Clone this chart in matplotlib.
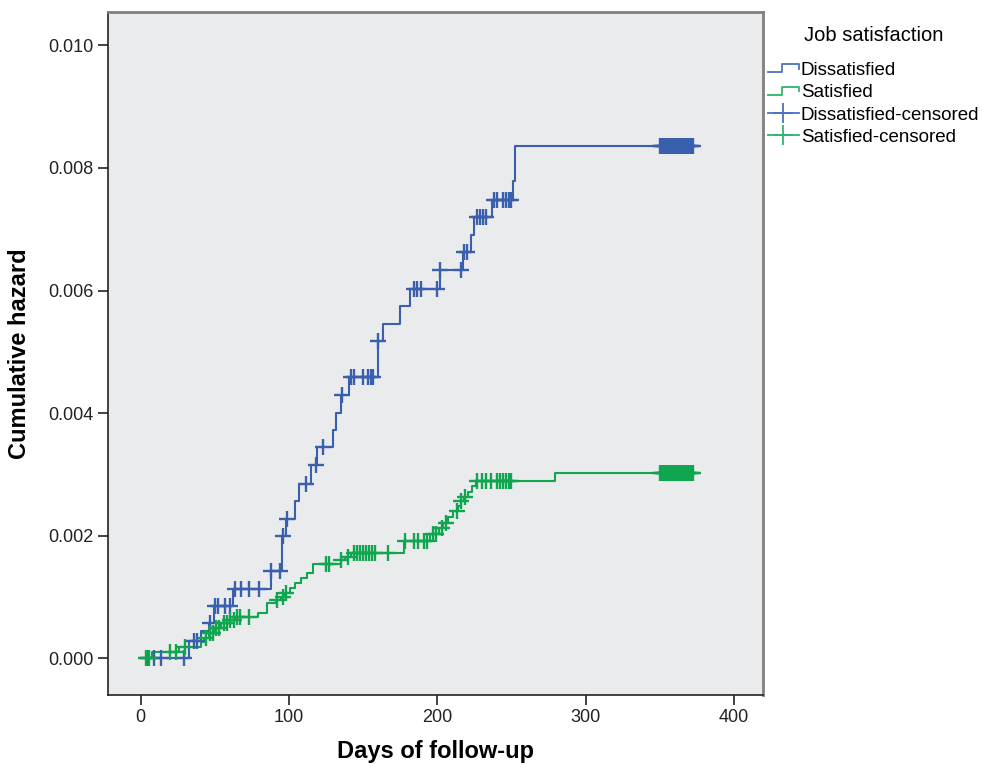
import matplotlib.pyplot as plt
import numpy as np
from matplotlib.lines import Line2D
from matplotlib.legend_handler import HandlerBase

plt.rcParams['font.family'] = ['Liberation Sans', 'DejaVu Sans']

# Dissatisfied group: event times and cumulative hazard after each step
dis_times = [0, 33, 41, 46, 49.5, 62, 88, 95.5, 98, 104, 107, 115, 119, 130, 132,
             135, 140.5, 160, 163.5, 175, 181.5, 201.5, 217, 223, 225, 237, 251,
             252.5, 372]
dis_haz = [0, 0.00028, 0.00045, 0.00058, 0.00086, 0.00114, 0.00143, 0.00199,
           0.00227, 0.00256, 0.00285, 0.00315, 0.00344, 0.00372, 0.00401, 0.00430,
           0.00459, 0.00517, 0.00546, 0.00575, 0.00603, 0.00633, 0.00662, 0.00690,
           0.00720, 0.00748, 0.00778, 0.00836, 0.00836]
dis_cens = [5, 9, 14, 29, 36, 38, 47, 50, 52, 57, 60, 64, 68, 73, 80, 88, 94, 96,
            99, 111.5, 118, 123, 135.5, 142, 144, 150, 153, 155, 157, 160, 184, 186,
            189, 200, 202, 216, 218, 220, 227, 229, 231, 233, 238, 240, 244, 246,
            248, 250, 350, 351, 352, 353, 354, 355, 356, 357, 358, 359, 360, 361,
            362, 363, 364, 365, 366, 367, 368, 369, 370, 371, 372]

# Satisfied group
sat_times = [0, 7.5, 26, 40.5, 43, 46, 50, 54, 60, 64, 79, 85.5, 91, 95, 97, 101,
             104, 108, 112, 116, 135, 138, 142, 177.5, 195, 201, 204, 207.5, 210.5,
             214, 216, 218, 221, 223.5, 226, 279, 372]
sat_haz = [0, 0.00010, 0.00019, 0.00027, 0.00034, 0.00041, 0.00049, 0.00057,
           0.00063, 0.00068, 0.00074, 0.00090, 0.00095, 0.00100, 0.00107, 0.00115,
           0.00123, 0.00131, 0.00140, 0.00154, 0.00160, 0.00166, 0.00172, 0.00192,
           0.00203, 0.00213, 0.00221, 0.00230, 0.00240, 0.00248, 0.00256, 0.00264,
           0.00272, 0.00281, 0.00290, 0.00302, 0.00302]
sat_cens = [4, 6, 20, 24, 30, 44, 47, 49, 51, 53, 56, 58, 60, 63, 65, 67, 73, 92,
            96, 98, 125, 127, 135, 140, 144, 146, 148, 150, 152, 154, 156, 158, 167,
            178, 184, 187, 191, 193, 197, 199, 203, 206, 213, 216, 219, 227, 230,
            233, 236, 240, 242, 244, 246, 248, 250, 350, 351, 352, 353, 354, 355,
            356, 357, 358, 359, 360, 361, 362, 363, 364, 365, 366, 367, 368, 369,
            370, 371, 372]

blue = '#3a5fad'
green = '#0fa64f'
blue_leg = '#4c72bd'
green_leg = '#2fb56c'


def haz_at(times, haz, t):
    idx = np.searchsorted(times, t, side='right') - 1
    return np.asarray(haz)[idx]


class StepHandler(HandlerBase):
    def create_artists(self, legend, orig_handle, xdescent, ydescent, width,
                       height, fontsize, trans):
        x0 = -xdescent
        y0 = -ydescent
        xs = [x0, x0 + width * 0.45, x0 + width * 0.45, x0 + width, x0 + width]
        ys = [y0 + height * 0.2, y0 + height * 0.2, y0 + height * 0.8,
              y0 + height * 0.8, y0 + height * 0.45]
        ln = Line2D(xs, ys, color=orig_handle.get_color(), lw=1.3, transform=trans)
        return [ln]


fig = plt.figure(figsize=(9.82, 7.67), dpi=100)
ax = fig.add_axes([0.110, 0.094, 0.667, 0.891])
ax.set_facecolor('#eaebed')

ax.step(dis_times, dis_haz, where='post', color=blue, lw=1.5)
ax.step(sat_times, sat_haz, where='post', color=green, lw=1.5)
ax.plot(dis_cens, haz_at(dis_times, dis_haz, dis_cens), ls='none', marker='+',
        ms=11, mew=1.7, color=blue)
ax.plot(sat_cens, haz_at(sat_times, sat_haz, sat_cens), ls='none', marker='+',
        ms=11, mew=1.7, color=green)

ax.set_xlim(-21.9, 419.5)
ax.set_ylim(-0.000595, 0.01055)
ax.set_xticks([0, 100, 200, 300, 400])
ax.set_yticks([0, 0.002, 0.004, 0.006, 0.008, 0.010])
ax.set_yticklabels(['0.000', '0.002', '0.004', '0.006', '0.008', '0.010'])
ax.tick_params(direction='out', length=7, width=1.2, labelsize=13, colors='#222222')

for s in ['left', 'bottom']:
    ax.spines[s].set_color('#222222')
    ax.spines[s].set_linewidth(1.2)
for s in ['top', 'right']:
    ax.spines[s].set_color('#808080')
    ax.spines[s].set_linewidth(2)

ax.set_xlabel('Days of follow-up', fontsize=17, fontweight='bold', labelpad=10)
ax.set_ylabel('Cumulative hazard', fontsize=17, fontweight='bold', labelpad=12)

h_dis = Line2D([], [], color=blue_leg)
h_sat = Line2D([], [], color=green_leg)
h_dc = Line2D([], [], color=blue_leg, marker='+', ms=14, mew=1.3, lw=1.3)
h_sc = Line2D([], [], color=green_leg, marker='+', ms=14, mew=1.3, lw=1.3)
leg = fig.legend([h_dis, h_sat, h_dc, h_sc],
                 ['Dissatisfied', 'Satisfied', 'Dissatisfied-censored',
                  'Satisfied-censored'],
                 title='Job satisfaction', loc='upper left',
                 bbox_to_anchor=(768 / 982, 1 - 26 / 767), frameon=False,
                 fontsize=13.5, title_fontsize=14.5, handlelength=1.65,
                 handletextpad=0.1, labelspacing=0.28, borderpad=0,
                 borderaxespad=0, handler_map={h_dis: StepHandler(),
                                               h_sat: StepHandler()})
leg._legend_box.sep = 12

fig.savefig('out.png', dpi=100)
